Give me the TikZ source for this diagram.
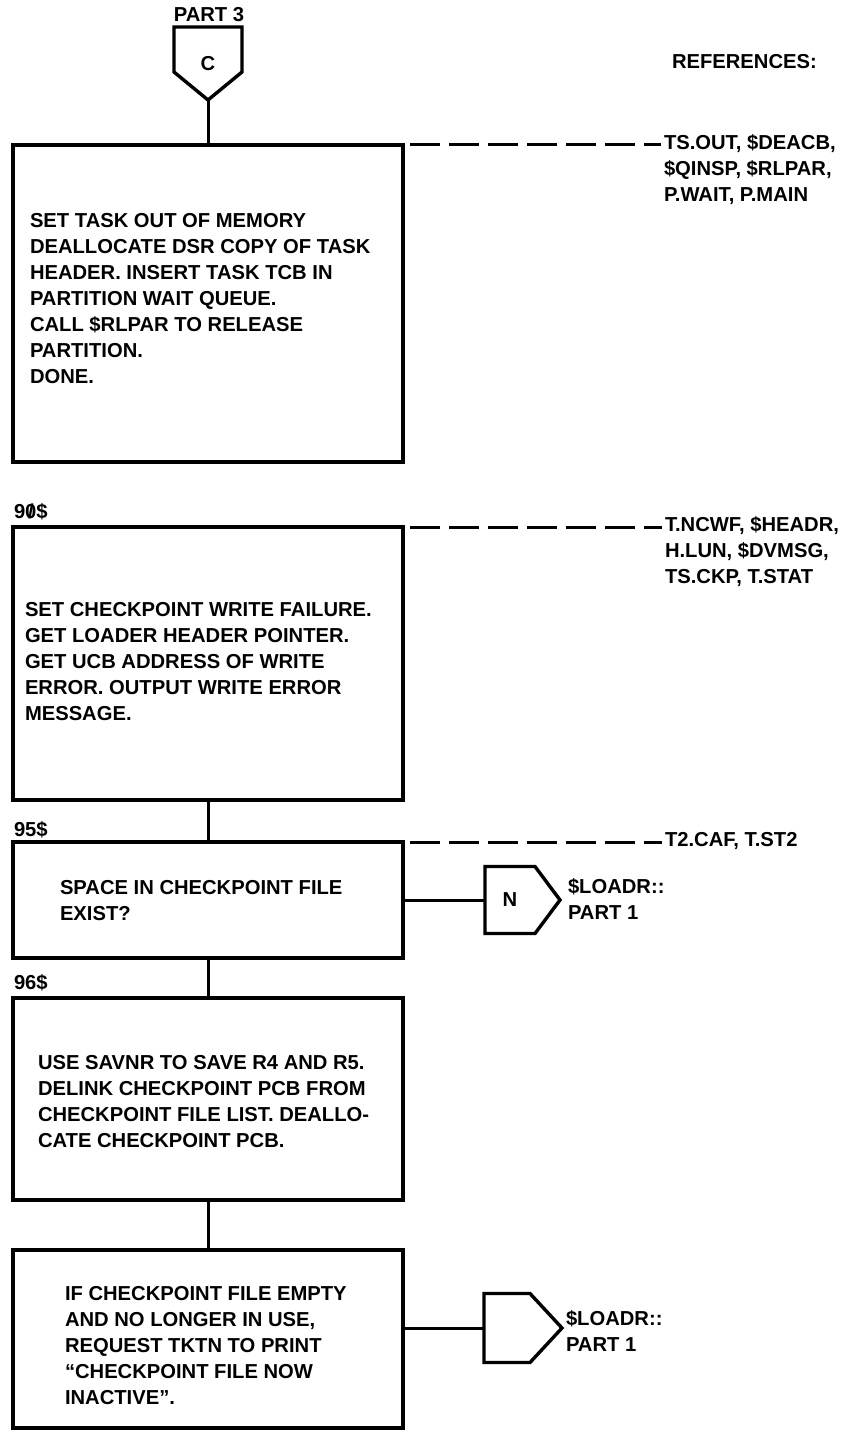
\documentclass[tikz,border=0pt]{standalone}
\usepackage{fontspec}
\setmainfont{Liberation Sans}
\usetikzlibrary{calc}
\newcommand\slz{{\ooalign{0\cr\hidewidth/\hidewidth\cr}}}
\begin{document}
\begin{tikzpicture}[x=1pt,y=-1pt,
  every node/.style={inner sep=0pt, outer sep=0pt},
  txt/.style={font=\fontsize{20.2}{26}\selectfont\bfseries, align=left},
  procbox/.style={draw, line width=3.4pt, minimum width=390pt},
  conn/.style={line width=3.4pt, line join=miter},
  flow/.style={line width=3pt},
  refline/.style={line width=3pt, dash pattern=on 30pt off 9pt, shorten <=7pt, shorten >=3pt},
]
\useasboundingbox (0,0) rectangle (847,1431);

% off-page connector C
\node[txt, minimum width=68pt, minimum height=73pt] (cC) at (208,63.5) {C};
\draw[conn] (cC.north west) -- (cC.north east) -- ($(cC.north east)+(0,45)$) -- (cC.south) -- ($(cC.north west)+(0,45)$) -- cycle;
\node[txt] (p3) at (209,15) {PART 3};
\node[txt, anchor=west] (refs) at (672,62) {REFERENCES:};

% boxes
\node[procbox, minimum height=317pt] (b1) at (208,303.5) {};
\node[procbox, minimum height=273pt] (b2) at (208,663.5) {};
\node[procbox, minimum height=116pt] (b3) at (208,900) {};
\node[procbox, minimum height=202pt] (b4) at (208,1099) {};
\node[procbox, minimum height=178pt] (b5) at (208,1339) {};

\node[txt, anchor=west] (t1) at ($(b1.west)+(17,-5)$) {SET TASK OUT OF MEMORY\\DEALLOCATE DSR COPY OF TASK\\HEADER. INSERT TASK TCB IN\\PARTITION WAIT QUEUE.\\CALL \$RLPAR TO RELEASE\\PARTITION.\\DONE.};
\node[txt, anchor=west] (t2) at ($(b2.west)+(12,-2)$) {SET CHECKPOINT WRITE FAILURE.\\GET LOADER HEADER POINTER.\\GET UCB ADDRESS OF WRITE\\ERROR. OUTPUT WRITE ERROR\\MESSAGE.};
\node[txt, anchor=west] (t3) at ($(b3.west)+(47,1)$) {SPACE IN CHECKPOINT FILE\\EXIST?};
\node[txt, anchor=west] (t4) at ($(b4.west)+(25,3)$) {USE SAVNR TO SAVE R4 AND R5.\\DELINK CHECKPOINT PCB FROM\\CHECKPOINT FILE LIST. DEALLO-\\CATE CHECKPOINT PCB.};
\node[txt, anchor=west] (t5) at ($(b5.west)+(52,7)$) {IF CHECKPOINT FILE EMPTY\\AND NO LONGER IN USE,\\REQUEST TKTN TO PRINT\\“CHECKPOINT FILE NOW\\INACTIVE”.};

% labels
\node[txt, anchor=west] (l90) at (14,512) {9\slz\$};
\node[txt, anchor=west] (l95) at (14,830) {95\$};
\node[txt, anchor=west] (l96) at (14,983) {96\$};

% references
\node[txt, anchor=north west] (r1) at (664,135) {TS.OUT, \$DEACB,\\\$QINSP, \$RLPAR,\\P.WAIT, P.MAIN};
\node[txt, anchor=north west] (r2) at (665,517) {T.NCWF, \$HEADR,\\H.LUN, \$DVMSG,\\TS.CKP, T.STAT};
\node[txt, anchor=north west] (r3) at (665,832) {T2.CAF, T.ST2};
\draw[refline] (b1.north east) -- (b1.north east -| r1.west);
\draw[refline] (b2.north east) -- (b2.north east -| r2.west);
\draw[refline] (b3.north east) -- (b3.north east -| r3.west);

% flow lines
\draw[flow] (cC.south) -- (b1.north);
\draw[flow] (b2.south) -- (b3.north);
\draw[flow] (b3.south) -- (b4.north);
\draw[flow] (b4.south) -- (b5.north);

% connector N
\node[txt, minimum width=50pt, minimum height=67pt] (nN) at (510,900) {N};
\draw[conn] (nN.north west) -- (nN.north east) -- ($(nN.east)+(25,0)$) -- (nN.south east) -- (nN.south west) -- cycle;
\draw[flow] (b3.east) -- (nN.west);
\node[txt, anchor=west] (lN) at (568,899) {\$LOADR::\\PART 1};

% connector (empty)
\node[minimum width=46pt, minimum height=69pt] (nE) at (507,1328) {};
\draw[conn] (nE.north west) -- (nE.north east) -- ($(nE.east)+(32,0)$) -- (nE.south east) -- (nE.south west) -- cycle;
\draw[flow] (nE.west -| b5.east) -- (nE.west);
\node[txt, anchor=west] (lE) at (566,1331) {\$LOADR::\\PART 1};
\end{tikzpicture}
\end{document}
